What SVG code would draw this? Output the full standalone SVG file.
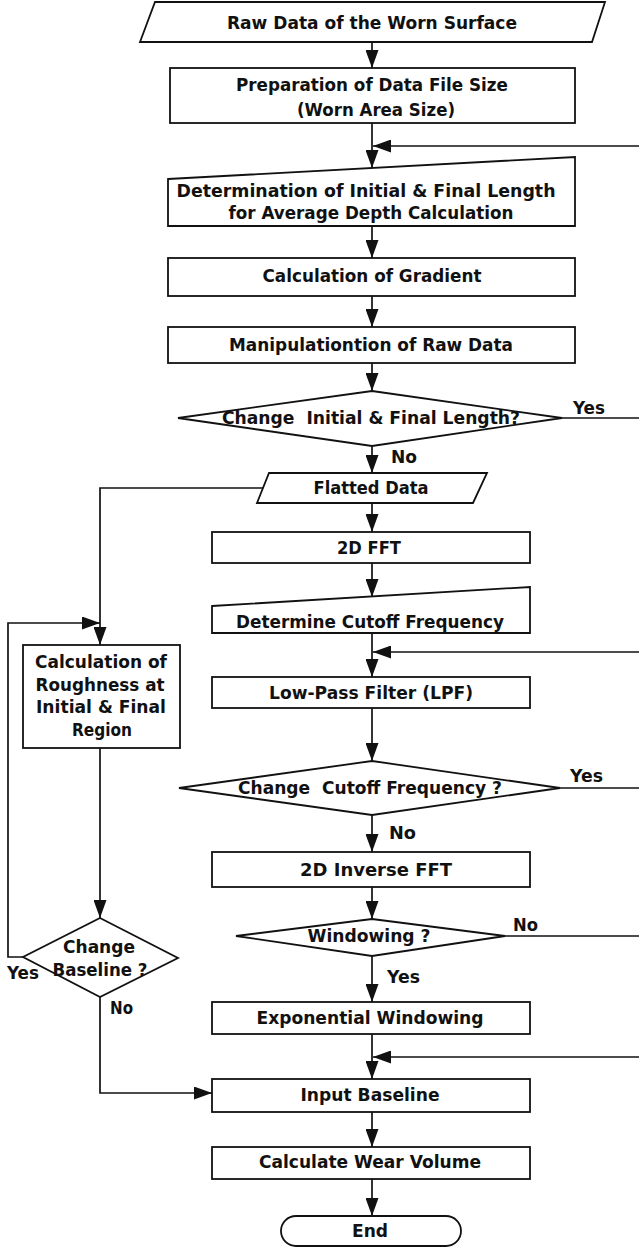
<svg xmlns="http://www.w3.org/2000/svg" width="639" height="1247" viewBox="0 0 639 1247">
  <style>
    .shape { fill: #ffffff; stroke: #111111; stroke-width: 1.8; stroke-linejoin: miter; }
    .wire { fill: none; stroke: #111111; stroke-width: 1.7; }
    .arrow { fill: none; stroke: #111111; stroke-width: 1.7; marker-end: url(#head); }
    text { font-family: "DejaVu Sans", "Verdana", sans-serif; font-weight: bold; font-size: 17.5px; fill: #111111; text-anchor: middle; }
    text.lbl { text-anchor: start; }
  </style>
  <defs>
    <marker id="head" markerUnits="userSpaceOnUse" markerWidth="18" markerHeight="13" refX="18" refY="6.5" orient="auto">
      <path d="M0,0 L18,6.5 L0,13 z" fill="#111111"/>
    </marker>
  </defs>
  <rect width="639" height="1247" fill="#ffffff"/>

  <!-- connectors -->
  <g id="connectors">
    <line class="arrow" x1="372" y1="42" x2="372" y2="68"/>
    <line class="arrow" x1="372" y1="123" x2="372" y2="168"/>
    <line class="arrow" x1="639" y1="146" x2="373" y2="146"/>
    <line class="arrow" x1="372" y1="226" x2="372" y2="258"/>
    <line class="arrow" x1="372" y1="296" x2="372" y2="327"/>
    <line class="arrow" x1="372" y1="363" x2="372" y2="391"/>
    <line class="arrow" x1="372" y1="446" x2="372" y2="473"/>
    <line class="wire" x1="562" y1="418" x2="639" y2="418"/>
    <line class="arrow" x1="372" y1="503" x2="372" y2="532"/>
    <line class="arrow" x1="372" y1="563" x2="372" y2="597"/>
    <line class="arrow" x1="372" y1="633" x2="372" y2="677"/>
    <line class="arrow" x1="639" y1="652" x2="373" y2="652"/>
    <line class="arrow" x1="372" y1="708" x2="372" y2="761"/>
    <line class="wire" x1="560" y1="788" x2="639" y2="788"/>
    <line class="arrow" x1="372" y1="815" x2="372" y2="852"/>
    <line class="arrow" x1="372" y1="887" x2="372" y2="919"/>
    <line class="wire" x1="505" y1="936" x2="639" y2="936"/>
    <line class="arrow" x1="372" y1="956" x2="372" y2="1002"/>
    <line class="arrow" x1="372" y1="1034" x2="372" y2="1079"/>
    <line class="arrow" x1="639" y1="1057" x2="373" y2="1057"/>
    <line class="arrow" x1="372" y1="1112" x2="372" y2="1147"/>
    <line class="arrow" x1="372" y1="1179" x2="372" y2="1216"/>
    <!-- left branch -->
    <polyline class="arrow" points="263,488 100,488 100,645"/>
    <polyline class="arrow" points="23,957 8,957 8,623 100,623"/>
    <line class="arrow" x1="100" y1="748" x2="100" y2="918"/>
    <polyline class="arrow" points="100,997 100,1093 212,1093"/>
  </g>

  <!-- branch labels -->
  <g id="labels">
    <text class="lbl" x="573" y="414" textLength="32" lengthAdjust="spacingAndGlyphs">Yes</text>
    <text class="lbl" x="391" y="463" textLength="26" lengthAdjust="spacingAndGlyphs">No</text>
    <text class="lbl" x="570" y="782" textLength="33" lengthAdjust="spacingAndGlyphs">Yes</text>
    <text class="lbl" x="389" y="839" textLength="27" lengthAdjust="spacingAndGlyphs">No</text>
    <text class="lbl" x="513" y="931" textLength="25" lengthAdjust="spacingAndGlyphs">No</text>
    <text class="lbl" x="387" y="983" textLength="33" lengthAdjust="spacingAndGlyphs">Yes</text>
    <text class="lbl" x="7" y="979" textLength="32" lengthAdjust="spacingAndGlyphs">Yes</text>
    <text class="lbl" x="110" y="1014" textLength="23" lengthAdjust="spacingAndGlyphs">No</text>
  </g>

  <g id="raw-data">
    <polygon class="shape" points="155,2 605,2 592,42 140,42"/>
    <text x="372" y="29" textLength="290" lengthAdjust="spacingAndGlyphs">Raw Data of the Worn Surface</text>
  </g>

  <g id="prepare-size">
    <rect class="shape" x="170" y="68" width="405" height="55"/>
    <text x="372" y="91" textLength="272" lengthAdjust="spacingAndGlyphs">Preparation of Data File Size</text>
    <text x="376" y="116" textLength="158" lengthAdjust="spacingAndGlyphs">(Worn Area Size)</text>
  </g>

  <g id="set-length">
    <polygon class="shape" points="168,179 575,157 575,226 168,226"/>
    <text x="366" y="197" textLength="379" lengthAdjust="spacingAndGlyphs">Determination of Initial &amp; Final Length</text>
    <text x="371" y="219" textLength="285" lengthAdjust="spacingAndGlyphs">for Average Depth Calculation</text>
  </g>

  <g id="gradient">
    <rect class="shape" x="168" y="258" width="407" height="38"/>
    <text x="372" y="282" textLength="219" lengthAdjust="spacingAndGlyphs">Calculation of Gradient</text>
  </g>

  <g id="manipulate">
    <rect class="shape" x="168" y="327" width="407" height="36"/>
    <text x="371" y="351" textLength="284" lengthAdjust="spacingAndGlyphs">Manipulationtion of Raw Data</text>
  </g>

  <g id="decide-length">
    <polygon class="shape" points="372,391 562,418 372,446 178,418"/>
    <text x="371" y="424" textLength="298" lengthAdjust="spacingAndGlyphs" xml:space="preserve">Change  Initial &amp; Final Length?</text>
  </g>

  <g id="flatted">
    <polygon class="shape" points="269,473 487,473 473,503 257,503"/>
    <text x="371" y="494" textLength="115" lengthAdjust="spacingAndGlyphs">Flatted Data</text>
  </g>

  <g id="fft">
    <rect class="shape" x="212" y="532" width="318" height="31"/>
    <text x="369" y="554" textLength="64" lengthAdjust="spacingAndGlyphs">2D FFT</text>
  </g>

  <g id="cutoff">
    <polygon class="shape" points="212,606 530,587 530,633 212,633"/>
    <text x="370" y="628" textLength="268" lengthAdjust="spacingAndGlyphs">Determine Cutoff Frequency</text>
  </g>

  <g id="lpf">
    <rect class="shape" x="212" y="677" width="318" height="31"/>
    <text x="371" y="699" textLength="204" lengthAdjust="spacingAndGlyphs">Low-Pass Filter (LPF)</text>
  </g>

  <g id="roughness">
    <rect class="shape" x="23" y="645" width="157" height="103"/>
    <text x="101" y="668" textLength="132" lengthAdjust="spacingAndGlyphs">Calculation of</text>
    <text x="100" y="691" textLength="129" lengthAdjust="spacingAndGlyphs">Roughness at</text>
    <text x="101" y="713" textLength="130" lengthAdjust="spacingAndGlyphs">Initial &amp; Final</text>
    <text x="102" y="736" textLength="60" lengthAdjust="spacingAndGlyphs">Region</text>
  </g>

  <g id="decide-cutoff">
    <polygon class="shape" points="372,761 560,788 372,815 179,788"/>
    <text x="370" y="794" textLength="264" lengthAdjust="spacingAndGlyphs" xml:space="preserve">Change  Cutoff Frequency ?</text>
  </g>

  <g id="ifft">
    <rect class="shape" x="212" y="852" width="318" height="35"/>
    <text x="376" y="876" textLength="152" lengthAdjust="spacingAndGlyphs">2D Inverse FFT</text>
  </g>

  <g id="decide-window">
    <polygon class="shape" points="372,919 505,936 372,956 236,936"/>
    <text x="369" y="942" textLength="123" lengthAdjust="spacingAndGlyphs">Windowing ?</text>
  </g>

  <g id="decide-baseline">
    <polygon class="shape" points="100,918 178,958 100,997 23,957"/>
    <text x="99" y="953" textLength="72" lengthAdjust="spacingAndGlyphs">Change</text>
    <text x="100" y="976" textLength="95" lengthAdjust="spacingAndGlyphs">Baseline ?</text>
  </g>

  <g id="exp-window">
    <rect class="shape" x="212" y="1002" width="318" height="32"/>
    <text x="370" y="1024" textLength="227" lengthAdjust="spacingAndGlyphs">Exponential Windowing</text>
  </g>

  <g id="input-baseline">
    <rect class="shape" x="212" y="1079" width="318" height="33"/>
    <text x="370" y="1101" textLength="139" lengthAdjust="spacingAndGlyphs">Input Baseline</text>
  </g>

  <g id="wear-volume">
    <rect class="shape" x="212" y="1147" width="318" height="32"/>
    <text x="370" y="1168" textLength="222" lengthAdjust="spacingAndGlyphs">Calculate Wear Volume</text>
  </g>

  <g id="end">
    <rect class="shape" x="281" y="1216" width="180" height="30" rx="15" ry="15"/>
    <text x="370" y="1237" textLength="36" lengthAdjust="spacingAndGlyphs">End</text>
  </g>
</svg>
